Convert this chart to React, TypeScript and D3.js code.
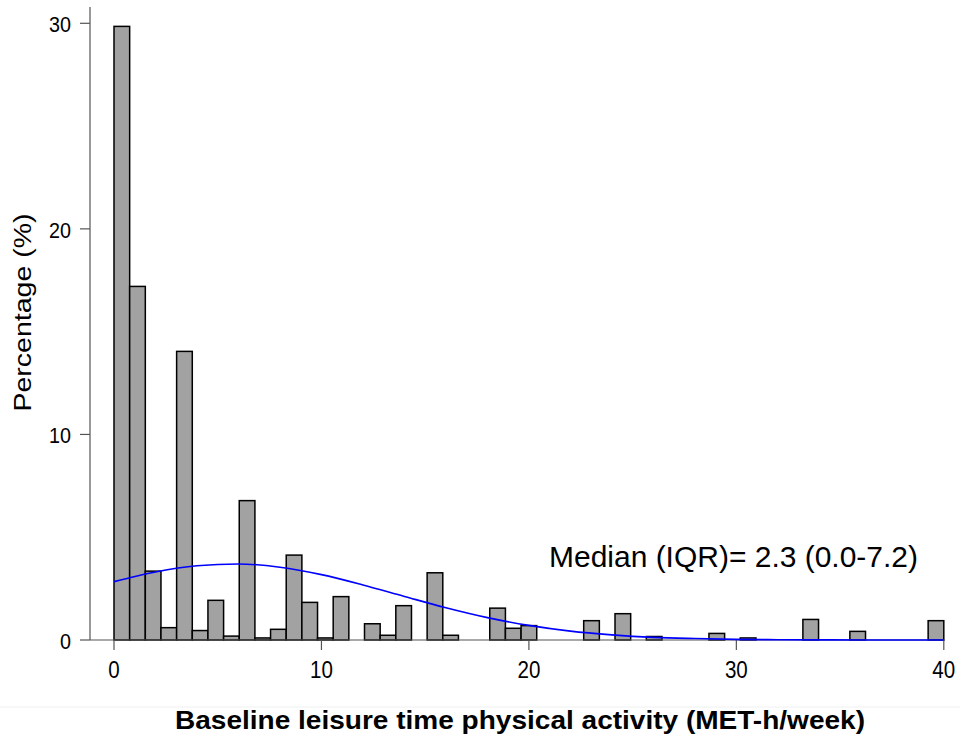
import React from "react";
import * as d3 from "d3";

// Histogram: 53 equal-width bins from 0 to 40 MET-h/week, percentage per bin
const binCount = 53;
const xDomain = [0, 40];
const binPercent = [
  29.85, 17.2, 3.35, 0.6, 14.04, 0.46, 1.93, 0.19, 6.78, 0.1,
  0.52, 4.13, 1.83, 0.1, 2.11, 0, 0.79, 0.23, 1.67, 0,
  3.27, 0.23, 0, 0, 1.55, 0.57, 0.7, 0, 0, 0,
  0.94, 0, 1.28, 0, 0.17, 0, 0, 0, 0.32, 0,
  0.1, 0, 0, 0, 1.0, 0, 0, 0.42, 0, 0,
  0, 0, 0.94,
];

// Normal overlay curve
const curveX = [0, 2, 4, 6, 8, 10, 12, 14, 16, 18, 20, 22, 24, 26, 28, 30, 32, 34, 36, 38, 40];
const curveY = [2.84, 3.31, 3.61, 3.7, 3.54, 3.18, 2.68, 2.12, 1.57, 1.09, 0.71, 0.43, 0.25, 0.13, 0.07, 0.03, 0.015, 0.006, 0.002, 0, 0];

const xTicks = [0, 10, 20, 30, 40];
const yTicks = [0, 10, 20, 30];
const annotation = "Median (IQR)= 2.3 (0.0-7.2)";
const xTitle = "Baseline leisure time physical activity (MET-h/week)";
const yTitle = "Percentage (%)";

export default function App() {
  const x = d3.scaleLinear().domain(xDomain).range([114, 943.8]);
  const y = d3.scaleLinear().domain([0, 30]).range([640, 23.3]);
  const binW = (xDomain[1] - xDomain[0]) / binCount;

  const line = d3
    .line<number>()
    .x((_, i) => x(curveX[i]))
    .y((d) => y(d))
    .curve(d3.curveMonotoneX);

  const font = "'Liberation Sans', Arial, sans-serif";
  const axisColor = "#555";

  return (
    <svg
      width={960}
      height={740}
      style={{ position: "absolute", left: 0, top: 0, background: "#fff" }}
      fontFamily={font}
    >
      <rect x={0} y={0} width={960} height={740} fill="#fff" />
      {/* faint separator */}
      <line x1={0} x2={960} y1={707} y2={707} stroke="#eef0f0" strokeWidth={1} />

      {/* bars */}
      {binPercent.map((v, i) =>
        v > 0 ? (
          <rect
            key={i}
            x={x(i * binW)}
            y={y(v)}
            width={x((i + 1) * binW) - x(i * binW)}
            height={y(0) - y(v)}
            fill="#a2a2a2"
            stroke="#000"
            strokeWidth={1.5}
          />
        ) : null
      )}

      {/* axes */}
      <line x1={90} x2={90} y1={7} y2={640} stroke={axisColor} strokeWidth={1.2} />
      <line x1={90} x2={945} y1={640} y2={640} stroke={axisColor} strokeWidth={1.2} />

      {yTicks.map((t) => (
        <g key={"y" + t}>
          <line x1={80} x2={90} y1={y(t)} y2={y(t)} stroke={axisColor} strokeWidth={1.2} />
          <text
            transform={`translate(71,${y(t) + 9}) scale(0.92,1)`}
            textAnchor="end"
            fontSize={21.5}
            fill="#000"
          >
            {t}
          </text>
        </g>
      ))}

      {xTicks.map((t) => (
        <g key={"x" + t}>
          <line x1={x(t)} x2={x(t)} y1={640} y2={650} stroke={axisColor} strokeWidth={1.2} />
          <text
            transform={`translate(${x(t)},678.3) scale(0.84,1)`}
            textAnchor="middle"
            fontSize={24.5}
            fill="#000"
          >
            {t}
          </text>
        </g>
      ))}

      {/* normal curve */}
      <path d={line(curveY) || ""} fill="none" stroke="#0000ff" strokeWidth={1.6} />

      {/* annotation */}
      <text x={549} y={567.3} fontSize={29.5} fill="#000" textLength={369} lengthAdjust="spacingAndGlyphs">
        {annotation}
      </text>

      {/* titles */}
      <text
        x={520}
        y={729}
        textAnchor="middle"
        fontSize={25}
        fontWeight="bold"
        fill="#000"
        textLength={690}
        lengthAdjust="spacingAndGlyphs"
      >
        {xTitle}
      </text>
      <text
        transform="translate(31,312.5) rotate(-90)"
        textAnchor="middle"
        fontSize={23}
        fill="#000"
        textLength={198}
        lengthAdjust="spacingAndGlyphs"
      >
        {yTitle}
      </text>
    </svg>
  );
}
